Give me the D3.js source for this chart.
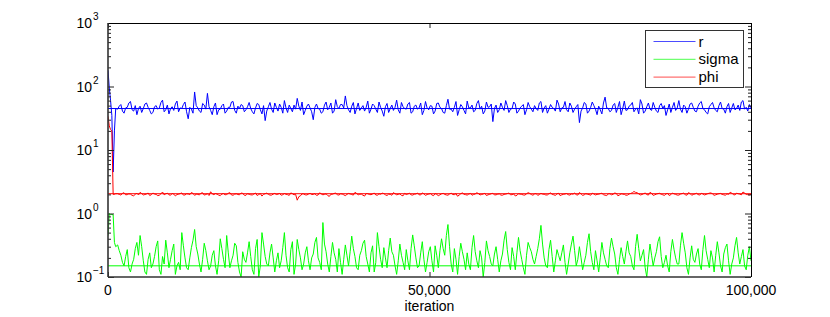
<!DOCTYPE html>
<html lang="en">
<head>
<meta charset="utf-8" />
<title>Trace plot</title>
<script src="https://cdn.jsdelivr.net/npm/d3@7"></script>
<style>
  body { margin: 0; background: #fff; }
  svg { display: block; font-family: "Liberation Sans", Arial, sans-serif; }
</style>
</head>
<body>
<svg id="chart" width="830" height="317"></svg>
<script>
// series names, colours and the "true" reference values
const seriesNames = ["r", "sigma", "phi"];
const seriesColors = ["#0000ff", "#00ff00", "#ff0000"];
const trueValues = [45, 0.15, 2.05];

// burn-in samples (first iterations)
const burnIter = [0, 200, 400, 600, 800, 1000, 1200];
const burnR = [180, 95, 60, 35, 4.5, 20, 45];
const burnSigma = [0.45, 1.0, 0.95, 0.97, 0.95, 0.35, 0.3];
const burnPhi = [34, 24, 21, 20, 2.0, 2.0, 2.05];

// thinned chain after burn-in, 1500 .. 100000
const chainStart = 1500, chainEnd = 100000;
const traceR = [
  44, 49, 52, 41, 38, 46, 47, 55, 58, 43,
  41, 50, 36, 45, 49, 39, 45, 53, 55, 47,
  42, 37, 39, 48, 50, 44, 46, 56, 61, 40,
  43, 51, 37, 45, 48, 42, 53, 59, 40, 46,
  45, 52, 57, 40, 31, 47, 44, 38, 82, 50,
  46, 41, 39, 54, 51, 44, 78, 48, 42, 36,
  48, 55, 36, 43, 44, 50, 53, 38, 41, 47,
  47, 57, 58, 42, 38, 49, 45, 52, 50, 40,
  43, 48, 56, 45, 40, 37, 46, 54, 52, 43,
  37, 50, 29, 41, 48, 56, 44, 39, 55, 47,
  41, 53, 47, 38, 60, 46, 39, 51, 45, 40,
  51, 44, 65, 49, 42, 57, 36, 42, 49, 53,
  46, 40, 30, 47, 53, 45, 44, 38, 40, 51,
  57, 43, 47, 55, 38, 41, 62, 48, 45, 52,
  52, 46, 71, 50, 43, 39, 49, 56, 37, 45,
  55, 42, 46, 50, 41, 47, 59, 38, 44, 53,
  50, 44, 39, 57, 47, 41, 34, 48, 54, 39,
  45, 51, 42, 47, 61, 43, 38, 56, 48, 45,
  44, 53, 56, 38, 40, 49, 51, 44, 46, 55,
  36, 42, 58, 46, 43, 50, 49, 37, 41, 54,
  55, 47, 45, 39, 38, 50, 63, 44, 44, 40,
  47, 58, 35, 43, 52, 48, 42, 37, 59, 46,
  46, 51, 40, 42, 54, 60, 44, 49, 37, 41,
  57, 47, 48, 53, 28, 45, 51, 39, 43, 55,
  47, 42, 60, 50, 39, 44, 45, 57, 53, 38,
  41, 46, 49, 52, 36, 43, 56, 48, 44, 40,
  50, 45, 42, 55, 58, 39, 46, 50, 38, 44,
  52, 47, 45, 41, 61, 53, 40, 46, 47, 58,
  43, 40, 55, 49, 39, 44, 48, 52, 27, 41,
  46, 56, 53, 38, 41, 47, 57, 50, 44, 36,
  49, 43, 37, 55, 68, 46, 45, 40, 42, 51,
  54, 39, 47, 58, 36, 45, 59, 42, 43, 49,
  51, 56, 40, 44, 46, 37, 62, 53, 38, 41,
  48, 55, 44, 42, 56, 47, 41, 39, 50, 54,
  45, 50, 35, 43, 53, 39, 47, 56, 42, 46,
  60, 44, 39, 51, 48, 38, 44, 53, 55, 47,
  41, 40, 49, 55, 58, 45, 43, 39, 37, 48,
  52, 56, 46, 42, 40, 50, 57, 45, 44, 38,
  48, 54, 39, 46, 54, 43, 45, 51, 42, 57,
  60, 44, 47, 41, 52, 46
];
const traceSigma = [
  0.32, 0.26, 0.22, 0.17, 0.15, 0.21, 0.27, 0.14, 0.12, 0.16,
  0.19, 0.28, 0.35, 0.22, 0.45, 0.30, 0.18, 0.12, 0.11, 0.19,
  0.24, 0.14, 0.16, 0.21, 0.30, 0.37, 0.13, 0.11, 0.21, 0.16,
  0.38, 0.24, 0.14, 0.19, 0.26, 0.33, 0.11, 0.15, 0.17, 0.13,
  0.50, 0.31, 0.20, 0.14, 0.13, 0.20, 0.29, 0.38, 0.56, 0.30,
  0.23, 0.16, 0.12, 0.19, 0.34, 0.26, 0.18, 0.13, 0.15, 0.22,
  0.26, 0.15, 0.11, 0.18, 0.40, 0.28, 0.19, 0.14, 0.45, 0.24,
  0.14, 0.18, 0.22, 0.34, 0.31, 0.17, 0.12, 0.10, 0.25, 0.19,
  0.17, 0.24, 0.36, 0.21, 0.13, 0.11, 0.28, 0.39, 0.10, 0.15,
  0.50, 0.33, 0.21, 0.16, 0.15, 0.24, 0.33, 0.20, 0.12, 0.18,
  0.24, 0.14, 0.18, 0.29, 0.50, 0.22, 0.14, 0.12, 0.27, 0.36,
  0.11, 0.16, 0.39, 0.27, 0.20, 0.13, 0.16, 0.24, 0.30, 0.18,
  0.13, 0.20, 0.23, 0.35, 0.42, 0.20, 0.17, 0.13, 0.72, 0.33,
  0.25, 0.16, 0.12, 0.21, 0.35, 0.24, 0.19, 0.12, 0.28, 0.17,
  0.11, 0.19, 0.32, 0.22, 0.15, 0.25, 0.44, 0.28, 0.21, 0.14,
  0.13, 0.22, 0.26, 0.34, 0.38, 0.21, 0.16, 0.12, 0.24, 0.31,
  0.12, 0.17, 0.50, 0.30, 0.19, 0.14, 0.29, 0.20, 0.14, 0.26,
  0.41, 0.25, 0.22, 0.15, 0.11, 0.18, 0.33, 0.22, 0.17, 0.13,
  0.27, 0.18, 0.13, 0.28, 0.46, 0.31, 0.20, 0.14, 0.15, 0.24,
  0.36, 0.19, 0.12, 0.17, 0.25, 0.30, 0.18, 0.12, 0.31, 0.22,
  0.14, 0.26, 0.40, 0.28, 0.22, 0.45, 0.67, 0.30, 0.16, 0.12,
  0.28, 0.19, 0.11, 0.21, 0.34, 0.25, 0.19, 0.13, 0.24, 0.16,
  0.13, 0.29, 0.45, 0.25, 0.18, 0.14, 0.26, 0.20, 0.10, 0.17,
  0.37, 0.26, 0.21, 0.16, 0.15, 0.23, 0.30, 0.19, 0.12, 0.18,
  0.23, 0.38, 0.52, 0.27, 0.17, 0.13, 0.29, 0.21, 0.13, 0.24,
  0.42, 0.26, 0.19, 0.14, 0.11, 0.22, 0.35, 0.29, 0.25, 0.19,
  0.16, 0.21, 0.28, 0.40, 0.65, 0.33, 0.20, 0.15, 0.14, 0.27,
  0.38, 0.21, 0.12, 0.18, 0.27, 0.22, 0.18, 0.24, 0.32, 0.17,
  0.11, 0.16, 0.24, 0.33, 0.44, 0.26, 0.15, 0.19, 0.30, 0.20,
  0.13, 0.17, 0.22, 0.35, 0.48, 0.25, 0.17, 0.13, 0.26, 0.18,
  0.12, 0.20, 0.35, 0.24, 0.19, 0.15, 0.14, 0.28, 0.41, 0.30,
  0.23, 0.14, 0.11, 0.19, 0.29, 0.21, 0.16, 0.25, 0.37, 0.24,
  0.21, 0.15, 0.13, 0.30, 0.47, 0.28, 0.18, 0.22, 0.27, 0.14,
  0.10, 0.19, 0.33, 0.22, 0.15, 0.20, 0.25, 0.36, 0.43, 0.21,
  0.14, 0.17, 0.22, 0.15, 0.12, 0.25, 0.39, 0.27, 0.20, 0.16,
  0.16, 0.31, 0.50, 0.34, 0.24, 0.14, 0.11, 0.20, 0.31, 0.19,
  0.17, 0.23, 0.28, 0.16, 0.13, 0.27, 0.45, 0.26, 0.19, 0.14,
  0.26, 0.20, 0.12, 0.22, 0.36, 0.24, 0.15, 0.12, 0.23, 0.29,
  0.33, 0.18, 0.11, 0.16, 0.20, 0.31, 0.42, 0.24, 0.16, 0.21,
  0.27, 0.15, 0.13, 0.22, 0.30, 0.18
];
const tracePhi = [
  2.05, 2.00, 1.95, 2.08, 2.12, 1.97, 1.98, 2.04, 2.02, 1.93,
  1.90, 2.01, 2.08, 1.96, 2.15, 2.06, 1.96, 1.99, 2.03, 2.10,
  1.92, 1.98, 2.10, 2.03, 2.00, 1.91, 1.94, 2.05, 2.18, 1.97,
  2.04, 2.09, 1.97, 1.94, 2.07, 2.02, 1.89, 1.99, 2.01, 2.06,
  2.11, 1.95, 1.96, 2.04, 2.03, 1.98, 2.14, 2.07, 1.93, 2.01,
  2.00, 1.96, 2.09, 2.12, 1.95, 1.99, 2.05, 1.92, 2.20, 2.04,
  1.98, 2.06, 2.02, 1.95, 1.91, 2.03, 2.06, 1.97, 1.99, 2.08,
  2.13, 1.96, 1.94, 2.02, 2.04, 1.99, 1.97, 2.10, 2.08, 1.94,
  1.93, 2.05, 2.01, 1.97, 1.96, 2.03, 2.10, 1.92, 1.99, 2.06,
  1.88, 2.00, 2.05, 2.09, 2.00, 1.95, 1.95, 2.02, 2.07, 1.99,
  2.02, 2.07, 1.94, 1.98, 2.06, 2.01, 1.98, 1.93, 2.11, 2.05,
  1.97, 2.00, 1.62, 1.84, 1.90, 2.04, 2.03, 1.97, 1.96, 2.02,
  2.08, 1.99, 2.00, 2.05, 1.93, 1.96, 2.12, 2.03, 1.97, 2.00,
  2.04, 1.92, 1.86, 2.01, 2.01, 2.07, 2.09, 1.98, 1.95, 2.04,
  2.03, 1.97, 1.91, 2.00, 2.07, 2.03, 1.99, 1.95, 2.15, 2.08,
  1.96, 2.01, 2.02, 1.94, 1.88, 2.06, 2.05, 1.99, 1.98, 2.03,
  2.10, 1.96, 1.94, 2.04, 2.01, 2.09, 2.06, 1.97, 1.92, 2.02,
  2.00, 1.94, 2.13, 2.05, 1.97, 2.00, 2.04, 1.93, 1.90, 2.07,
  1.99, 2.03, 2.08, 1.97, 1.95, 2.01, 2.03, 2.10, 1.97, 1.96,
  2.11, 2.04, 1.93, 1.99, 2.02, 2.06, 1.96, 1.91, 2.06, 2.00,
  1.91, 1.97, 2.04, 2.08, 2.00, 1.96, 1.94, 2.03, 2.09, 1.99,
  1.98, 2.05, 1.87, 1.95, 2.05, 2.11, 2.01, 1.98, 1.95, 2.02,
  2.07, 1.94, 1.99, 2.03, 2.12, 2.06, 1.96, 1.99, 2.03, 2.08,
  1.92, 1.97, 2.00, 2.05, 2.08, 1.96, 1.97, 2.01, 2.04, 1.95,
  1.94, 2.00, 2.02, 2.06, 2.10, 1.97, 1.98, 2.03, 1.89, 1.93,
  2.05, 2.02, 2.00, 1.96, 1.95, 2.04, 2.13, 2.07, 1.99, 1.94,
  2.03, 2.06, 1.93, 1.99, 2.07, 2.02, 2.01, 1.96, 1.96, 2.05,
  2.11, 2.00, 1.97, 1.93, 2.04, 2.08, 1.91, 1.97, 2.00, 2.03,
  2.06, 1.98, 1.95, 2.03, 2.02, 2.09, 1.98, 1.95, 2.14, 2.04,
  1.93, 1.97, 2.05, 2.01, 1.99, 1.94, 2.09, 2.03, 1.96, 2.00,
  2.01, 2.06, 2.08, 1.98, 1.94, 1.92, 2.03, 2.05, 1.97, 2.01,
  2.10, 2.07, 1.90, 1.96, 2.04, 2.02, 2.00, 1.94, 1.95, 2.03,
  2.07, 2.12, 2.22, 2.15, 2.12, 2.04, 1.96, 1.99, 2.05, 2.10,
  1.99, 1.95, 2.15, 2.08, 1.93, 1.97, 2.02, 2.06, 2.08, 2.01,
  1.97, 1.93, 2.04, 2.07, 1.92, 1.98, 2.10, 2.04, 2.00, 1.95,
  1.95, 2.02, 2.06, 2.09, 1.98, 1.94, 2.13, 2.06, 1.94, 1.99,
  2.03, 2.08, 1.99, 1.95, 2.08, 2.03, 1.96, 2.00, 2.05, 2.09,
  2.11, 2.04, 1.93, 1.97, 2.01, 2.05, 2.07, 2.00, 1.97, 1.94,
  2.04, 2.00, 2.16, 2.10, 1.98, 1.96, 2.09, 2.05, 2.02, 1.97,
  2.18, 2.10, 2.00, 1.98, 1.96, 2.02
];

const xTicks = [0, 50000, 100000];
const yMajor = [0.1, 1, 10, 100, 1000];
const yExponents = ["\u22121", "0", "1", "2", "3"];

const svg = d3.select("#chart");
const margin = { top: 23, right: 79, bottom: 40, left: 108 };
const width = 830, height = 317;
const x0 = margin.left, x1 = width - margin.right;
const y0 = height - margin.bottom, y1 = margin.top;

const x = d3.scaleLinear().domain([0, 100000]).range([x0, x1]);
const y = d3.scaleLog().domain([0.1, 1000]).range([y0, y1]);

// build the point lists for each series
function buildSeries(burn, trace) {
  const step = (chainEnd - chainStart) / (trace.length - 1);
  const pts = burnIter.map((it, i) => [it, burn[i]]);
  trace.forEach((v, i) => pts.push([chainStart + i * step, v]));
  return pts;
}
const series = [
  buildSeries(burnR, traceR),
  buildSeries(burnSigma, traceSigma),
  buildSeries(burnPhi, tracePhi)
];

svg.append("defs").append("clipPath").attr("id", "clip")
  .append("rect").attr("x", x0).attr("y", y1).attr("width", x1 - x0).attr("height", y0 - y1);

const line = d3.line().x(d => x(d[0])).y(d => y(d[1]));

const plot = svg.append("g").attr("clip-path", "url(#clip)");
plot.selectAll("path.trace")
  .data(series)
  .join("path")
    .attr("class", "trace")
    .attr("fill", "none")
    .attr("stroke", (d, i) => seriesColors[i])
    .attr("stroke-width", 1)
    .attr("stroke-linejoin", "round")
    .attr("d", line);

// reference lines at the true values
plot.selectAll("line.truth")
  .data(trueValues)
  .join("line")
    .attr("class", "truth")
    .attr("x1", x0).attr("x2", x1)
    .attr("y1", d => y(d)).attr("y2", d => y(d))
    .attr("stroke", (d, i) => seriesColors[i])
    .attr("stroke-width", 1);

// minor tick values 2..9 per decade
const yMinor = [];
[0.1, 1, 10, 100].forEach(dec => { for (let k = 2; k <= 9; k++) yMinor.push(dec * k); });

const styleAxis = g => g.call(g => g.select(".domain").remove())
  .call(g => g.selectAll(".tick line").attr("stroke", "#222"));

svg.append("g").attr("transform", `translate(${x0},0)`)
  .call(d3.axisLeft(y).tickValues(yMajor).tickSize(-6).tickFormat("")).call(styleAxis);
svg.append("g").attr("transform", `translate(${x0},0)`)
  .call(d3.axisLeft(y).tickValues(yMinor).tickSize(-3).tickFormat("")).call(styleAxis);
svg.append("g").attr("transform", `translate(${x1},0)`)
  .call(d3.axisRight(y).tickValues(yMajor).tickSize(-6).tickFormat("")).call(styleAxis);
svg.append("g").attr("transform", `translate(${x1},0)`)
  .call(d3.axisRight(y).tickValues(yMinor).tickSize(-3).tickFormat("")).call(styleAxis);

svg.append("g").attr("transform", `translate(0,${y0})`)
  .call(d3.axisBottom(x).tickValues(xTicks).tickSize(-5).tickFormat("")).call(styleAxis);
svg.append("g").attr("transform", `translate(0,${y1})`)
  .call(d3.axisTop(x).tickValues(xTicks).tickSize(-5).tickFormat("")).call(styleAxis);

// frame
svg.append("line").attr("x1", x0).attr("x2", x1).attr("y1", y1 + 0.5).attr("y2", y1 + 0.5).attr("stroke", "#000");
svg.append("line").attr("x1", x1 + 0.5).attr("x2", x1 + 0.5).attr("y1", y1).attr("y2", y0).attr("stroke", "#000");
svg.append("line").attr("x1", x0).attr("x2", x1).attr("y1", y0).attr("y2", y0).attr("stroke", "#333").attr("stroke-width", 1.6);
svg.append("line").attr("x1", x0).attr("x2", x0).attr("y1", y1).attr("y2", y0).attr("stroke", "#333").attr("stroke-width", 1.6);

// y tick labels as 10^n
const yl = svg.append("g").attr("font-size", "14px").attr("fill", "#000");
yMajor.forEach((v, i) => {
  yl.append("text")
    .attr("x", x0 - 16).attr("y", y(v) + 5)
    .attr("text-anchor", "end")
    .text("10");
  yl.append("text")
    .attr("x", x0 - 15).attr("y", y(v) - 3)
    .attr("font-size", "10px")
    .text(yExponents[i]);
});

// x tick labels
svg.append("g").attr("font-size", "14px")
  .selectAll("text")
  .data(xTicks)
  .join("text")
    .attr("x", d => x(d))
    .attr("y", y0 + 18)
    .attr("text-anchor", "middle")
    .text(d3.format(","));

svg.append("text")
  .attr("x", (x0 + x1) / 2).attr("y", y0 + 34)
  .attr("text-anchor", "middle")
  .attr("font-size", "14px")
  .text("iteration");

// legend
const legend = svg.append("g").attr("transform", "translate(645.5,30.5)");
legend.append("rect")
  .attr("width", 98).attr("height", 57)
  .attr("fill", "#fff").attr("stroke", "#333");
seriesNames.forEach((name, i) => {
  const ly = 11 + i * 17.8;
  legend.append("line")
    .attr("x1", 8).attr("x2", 50).attr("y1", ly).attr("y2", ly)
    .attr("stroke", seriesColors[i]).attr("stroke-opacity", 0.7);
  legend.append("text")
    .attr("x", 53).attr("y", ly + 5)
    .attr("font-size", "15px")
    .text(name);
});
</script>
</body>
</html>
